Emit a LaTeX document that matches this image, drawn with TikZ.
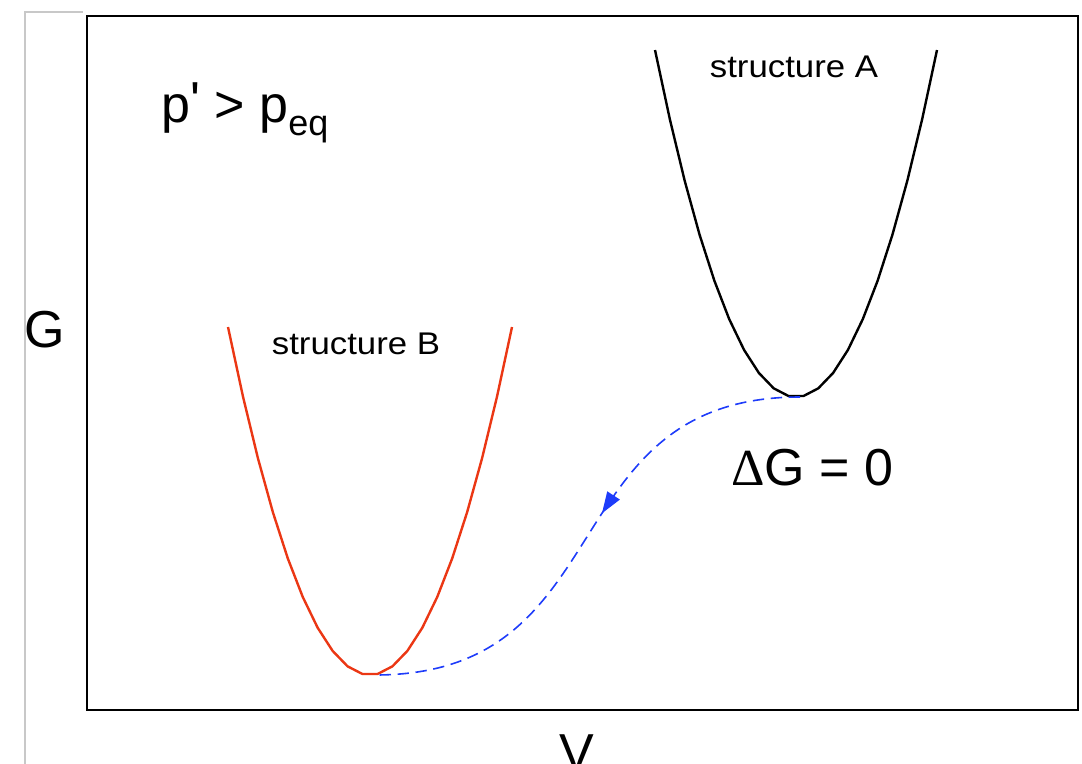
\documentclass[tikz,border=0pt]{standalone}
\usepackage{fontspec}
\newfontfamily\arial{Liberation Sans}
\newfontfamily\tms{Liberation Serif}
\usetikzlibrary{arrows.meta,decorations.markings}
\definecolor{curveB}{RGB}{235,55,20}
\definecolor{pathblue}{RGB}{30,60,250}
\definecolor{edgegray}{RGB}{200,200,200}
\begin{document}
\begin{tikzpicture}[x=0.75pt,y=-0.75pt,
  lbl/.style={font=\arial\fontsize{23.5}{25}\selectfont, inner sep=0pt},
  big/.style={font=\arial\fontsize{39}{42}\selectfont, inner sep=0pt},
  well/.style={line width=1.8pt, line join=round},
  route/.style={pathblue, line width=1.2pt, dash pattern=on 8.5pt off 5pt,
    postaction={decorate},
    decoration={markings, mark=at position 0.45 with {\arrow[solid]{Triangle[length=16pt,width=11pt]}}}}
]
\useasboundingbox (0,0) rectangle (1082,764);
\draw[edgegray, line width=0.8pt] (25,764) -- (25,12) -- (83,12);
\draw[line width=2.2pt] (87,16) rectangle (1078,710);

% wells
\draw[well] plot[domain=-141:141, samples=20] ({796+\x},{397-347*(\x/141)^2});
\draw[well, curveB] plot[domain=-142:142, samples=20] ({370+\x},{675-348*(\x/142)^2});

% path between minima
\coordinate (Amin) at (800,397);
\coordinate (Bmin) at (375,675);
\draw[route] (Amin) .. controls (550,397) and (625,675) .. (Bmin);

% labels
\node[lbl, anchor=base, xscale=1.11] (labA) at (794,77) {structure A};
\node[lbl, anchor=base, xscale=1.11] (labB) at (356,354) {structure B};
\node[big, anchor=base west] (cond) at (161,122) {p\raisebox{3pt}{'} > p\raisebox{-10pt}{\fontsize{27}{29}\selectfont eq}};
\node[big, anchor=base west] (dg) at (731,485) {{\tms Δ}G = 0};
\node[big, anchor=base] (axG) at (45,347) {G};
\node[big, anchor=base] (axV) at (577,770) {V};
\end{tikzpicture}
\end{document}
